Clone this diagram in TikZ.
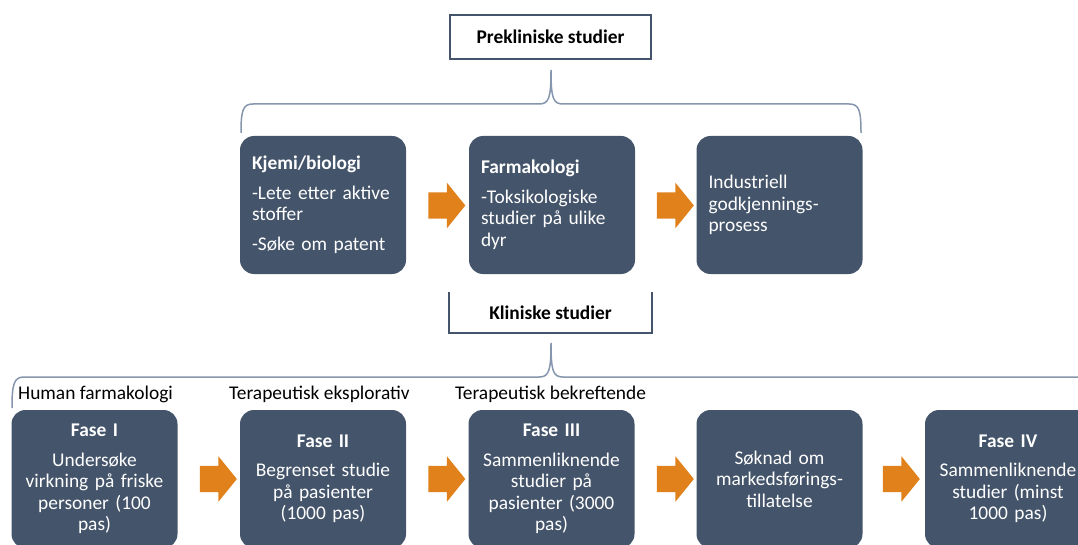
\documentclass[tikz,border=0pt]{standalone}
\usepackage{fontspec}
\setmainfont{Carlito}
\usetikzlibrary{shapes.arrows}
\definecolor{slate}{HTML}{44546A}
\definecolor{arroworange}{RGB}{224,129,28}
\definecolor{bracegray}{HTML}{8596AE}
\tikzset{
  stage/.style={fill=slate,text=white,rounded corners=14pt,minimum width=166pt,
    minimum height=138pt,text width=142pt,inner sep=0pt,align=left,
    font=\fontsize{19.4}{21.5}\selectfont},
  phase/.style={stage,align=center},
  flowarrow/.style={single arrow,fill=arroworange,minimum height=37pt,
    inner xsep=0pt,inner ysep=13pt,single arrow head extend=9.5pt,
    single arrow tip angle=102},
  header/.style={draw=slate,line width=2pt,minimum width=201pt,minimum height=44pt,
    font=\fontsize{19.4}{21.5}\selectfont\bfseries},
  brace/.style={draw=bracegray,line width=1.5pt},
  tag/.style={anchor=base west,inner sep=0pt,font=\fontsize{19.4}{21.5}\selectfont}
}
\begin{document}
\begin{tikzpicture}[x=1pt,y=-1pt]
  \useasboundingbox (0,0) rectangle (1078,545);
  \clip (0,0) rectangle (1078,545);

  % preclinical part
  \node[header] (pre) at (550.5,37) {Prekliniske studier};
  \draw[brace] (241,133) .. controls (241,110) and (243,104) .. (253,104) -- (539,104)
    .. controls (549,104) and (551,98) .. (551,70)
    .. controls (551,98) and (553,104) .. (563,104) -- (849,104)
    .. controls (859,104) and (861,110) .. (861,133);
  \node[stage] (kjemi) at (323,205) {\textbf{Kjemi/biologi}\\[8pt] -Lete etter aktive\\ stoffer\\[8pt] -Søke om patent};
  \node[stage] (farma) at (552,205) {\textbf{Farmakologi}\\[8pt] -Toksikologiske\\ studier på ulike\\ dyr};
  \node[stage] (indus) at (779.5,205) {Industriell\\ godkjennings-\\ prosess};
  \node[flowarrow] (pa1) at (441.5,205.5) {};
  \node[flowarrow] (pa2) at (670,205.5) {};

  % clinical part
  \node[header,draw=none,minimum height=39pt] (klin) at (550.5,312.5) {Kliniske studier};
  \draw[slate,line width=2pt] (klin.north west) -- (klin.south west) -- (klin.south east) -- (klin.north east);
  \draw[brace] (12,408) .. controls (12,384) and (14,377) .. (24,377) -- (539,377)
    .. controls (549,377) and (551,371) .. (551,343)
    .. controls (551,371) and (553,377) .. (563,377) -- (1090,377);
  \node[tag] (t1) at (18,399) {Human farmakologi};
  \node[tag] (t2) at (229,399) {Terapeutisk eksplorativ};
  \node[tag] (t3) at (455,399) {Terapeutisk bekreftende};

  \node[phase] (fase1) at (94.5,479) {\textbf{Fase I}\\[8pt] Undersøke\\ virkning på friske\\ personer (100\\ pas)};
  \node[phase] (fase2) at (323,479) {\textbf{Fase II}\\[8pt] Begrenset studie\\ på pasienter\\ (1000 pas)};
  \node[phase] (fase3) at (551.5,479) {\textbf{Fase III}\\[8pt] Sammenliknende\\ studier på\\ pasienter (3000\\ pas)};
  \node[phase] (soknad) at (779.5,479) {Søknad om\\ markedsførings-\\ tillatelse};
  \node[phase] (fase4) at (1008,479) {\textbf{Fase IV}\\[8pt] Sammenliknende\\ studier (minst\\ 1000 pas)};
  \node[flowarrow] (ka1) at (213,479) {};
  \node[flowarrow] (ka2) at (441.5,479) {};
  \node[flowarrow] (ka3) at (670,479) {};
  \node[flowarrow] (ka4) at (896,479) {};
\end{tikzpicture}
\end{document}
